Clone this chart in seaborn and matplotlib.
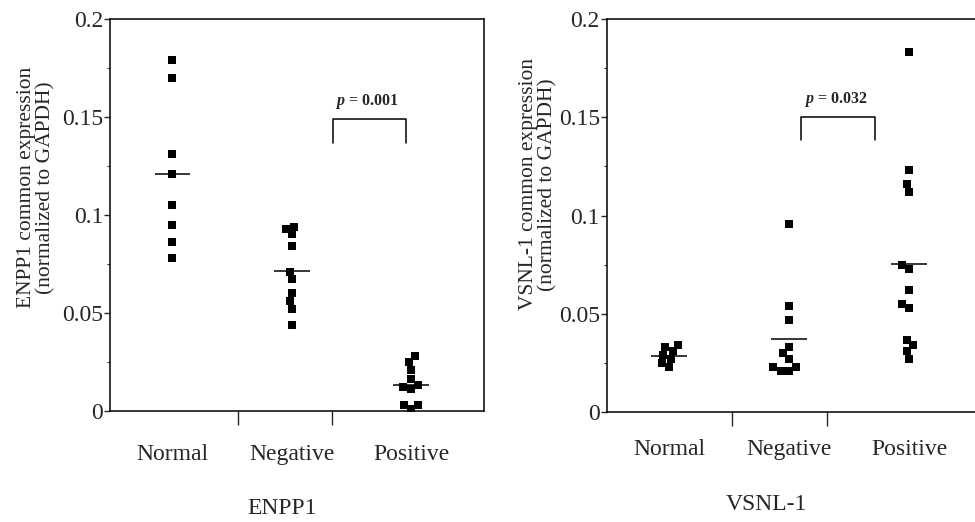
import numpy as np
import pandas as pd
import matplotlib
matplotlib.use("Agg")
import matplotlib.pyplot as plt
import seaborn as sns
from matplotlib.ticker import MultipleLocator, FixedLocator

# values
groups = ["Normal", "Negative", "Positive"]

enpp1_normal = [0.179, 0.170, 0.131, 0.121, 0.105, 0.095, 0.086, 0.078]
enpp1_negative = [0.094, 0.093, 0.090, 0.084, 0.071, 0.067, 0.060, 0.056, 0.052, 0.044]
enpp1_positive = [0.028, 0.025, 0.021, 0.016, 0.013, 0.012, 0.011, 0.003, 0.003, 0.001]

vsnl1_normal = [0.034, 0.033, 0.031, 0.029, 0.027, 0.025, 0.023]
vsnl1_negative = [0.096, 0.054, 0.047, 0.033, 0.030, 0.027, 0.023, 0.023, 0.021, 0.021]
vsnl1_positive = [0.183, 0.123, 0.116, 0.112, 0.075, 0.073, 0.062, 0.055, 0.053,
                  0.037, 0.034, 0.031, 0.027]

y_ticks = [0, 0.05, 0.1, 0.15, 0.2]
y_tick_labels = ["0", "0.05", "0.1", "0.15", "0.2"]

p_enpp1 = "0.001"
p_vsnl1 = "0.032"


def long_form(normal, negative, positive):
    return pd.DataFrame({
        "group": ["Normal"] * len(normal) + ["Negative"] * len(negative) + ["Positive"] * len(positive),
        "value": normal + negative + positive,
    })


df_enpp1 = long_form(enpp1_normal, enpp1_negative, enpp1_positive)
df_vsnl1 = long_form(vsnl1_normal, vsnl1_negative, vsnl1_positive)

sns.set_style("ticks")
plt.rcParams["font.family"] = ["Liberation Serif", "DejaVu Serif"]
plt.rcParams["mathtext.fontset"] = "custom"
plt.rcParams["mathtext.it"] = "Liberation Serif:italic:bold"
plt.rcParams["mathtext.rm"] = "Liberation Serif:bold"

fig = plt.figure(figsize=(9.75, 5.22), dpi=100)
fig.patch.set_facecolor("white")

ax1 = fig.add_axes([0.1128, 0.2132, 0.3836, 0.7504])
ax2 = fig.add_axes([0.6223, 0.2101, 0.3777, 0.7535])


def draw_panel(ax, df, xlim, dividers, ylabel, xlabel, ylab_pos, xlab_pos, lab_pad,
               bracket, p_text):
    sns.swarmplot(data=df, x="group", y="value", order=groups, ax=ax,
                  color="black", marker="s", size=5.8, linewidth=0)

    # group mean lines
    means = df.groupby("group")["value"].mean().reindex(groups)
    for i, m in enumerate(means):
        ax.hlines(m, i - 0.15, i + 0.15, color="black", lw=1.1, zorder=3)

    ax.set_xlim(xlim)
    ax.set_ylim(0, 0.2)

    ax.set_yticks(y_ticks)
    ax.set_yticklabels(y_tick_labels, fontsize=17)
    ax.yaxis.set_minor_locator(MultipleLocator(0.025))
    ax.tick_params(axis="y", which="major", length=4, width=1, pad=1)
    ax.tick_params(axis="y", which="minor", length=2, width=0.8)

    ax.set_xticks(range(len(groups)))
    ax.set_xticklabels(groups, fontsize=17)
    ax.xaxis.set_minor_locator(FixedLocator(dividers))
    ax.tick_params(axis="x", which="major", length=0, pad=lab_pad)
    ax.tick_params(axis="x", which="minor", length=10, width=1)

    ax.set_ylabel(ylabel, fontsize=15.5, linespacing=1.0)
    ax.yaxis.set_label_coords(*ylab_pos)
    ax.set_xlabel(xlabel, fontsize=17)
    ax.xaxis.set_label_coords(*xlab_pos)

    for s in ax.spines.values():
        s.set_linewidth(1.1)
        s.set_color("black")

    # significance bracket
    x0, x1, ytop, ybot = bracket
    ax.plot([x0, x0, x1, x1], [ybot, ytop, ytop, ybot], color="black", lw=1.1)
    ax.text((x0 + x1) / 2 - 0.02, ytop + 0.004, r"$p$ = " + p_text, fontsize=11.5,
            fontweight="bold", ha="center", va="bottom")


draw_panel(ax1, df_enpp1, (-0.524, 2.612), [0.549, 1.338],
           "ENPP1 common expression\n(normalized to GAPDH)", "ENPP1",
           (-0.147, 0.57), (0.461, -0.222), 24, (1.343, 1.958, 0.1488, 0.1367), p_enpp1)

draw_panel(ax2, df_vsnl1, (-0.519, 2.55), [0.525, 1.317],
           "VSNL-1 common expression\n(normalized to GAPDH)", "VSNL-1",
           (-0.135, 0.58), (0.433, -0.208), 19, (1.10, 1.717, 0.1503, 0.1385), p_vsnl1)
ax2.spines["right"].set_visible(False)

plt.savefig("out.png", dpi=100, facecolor="white")
